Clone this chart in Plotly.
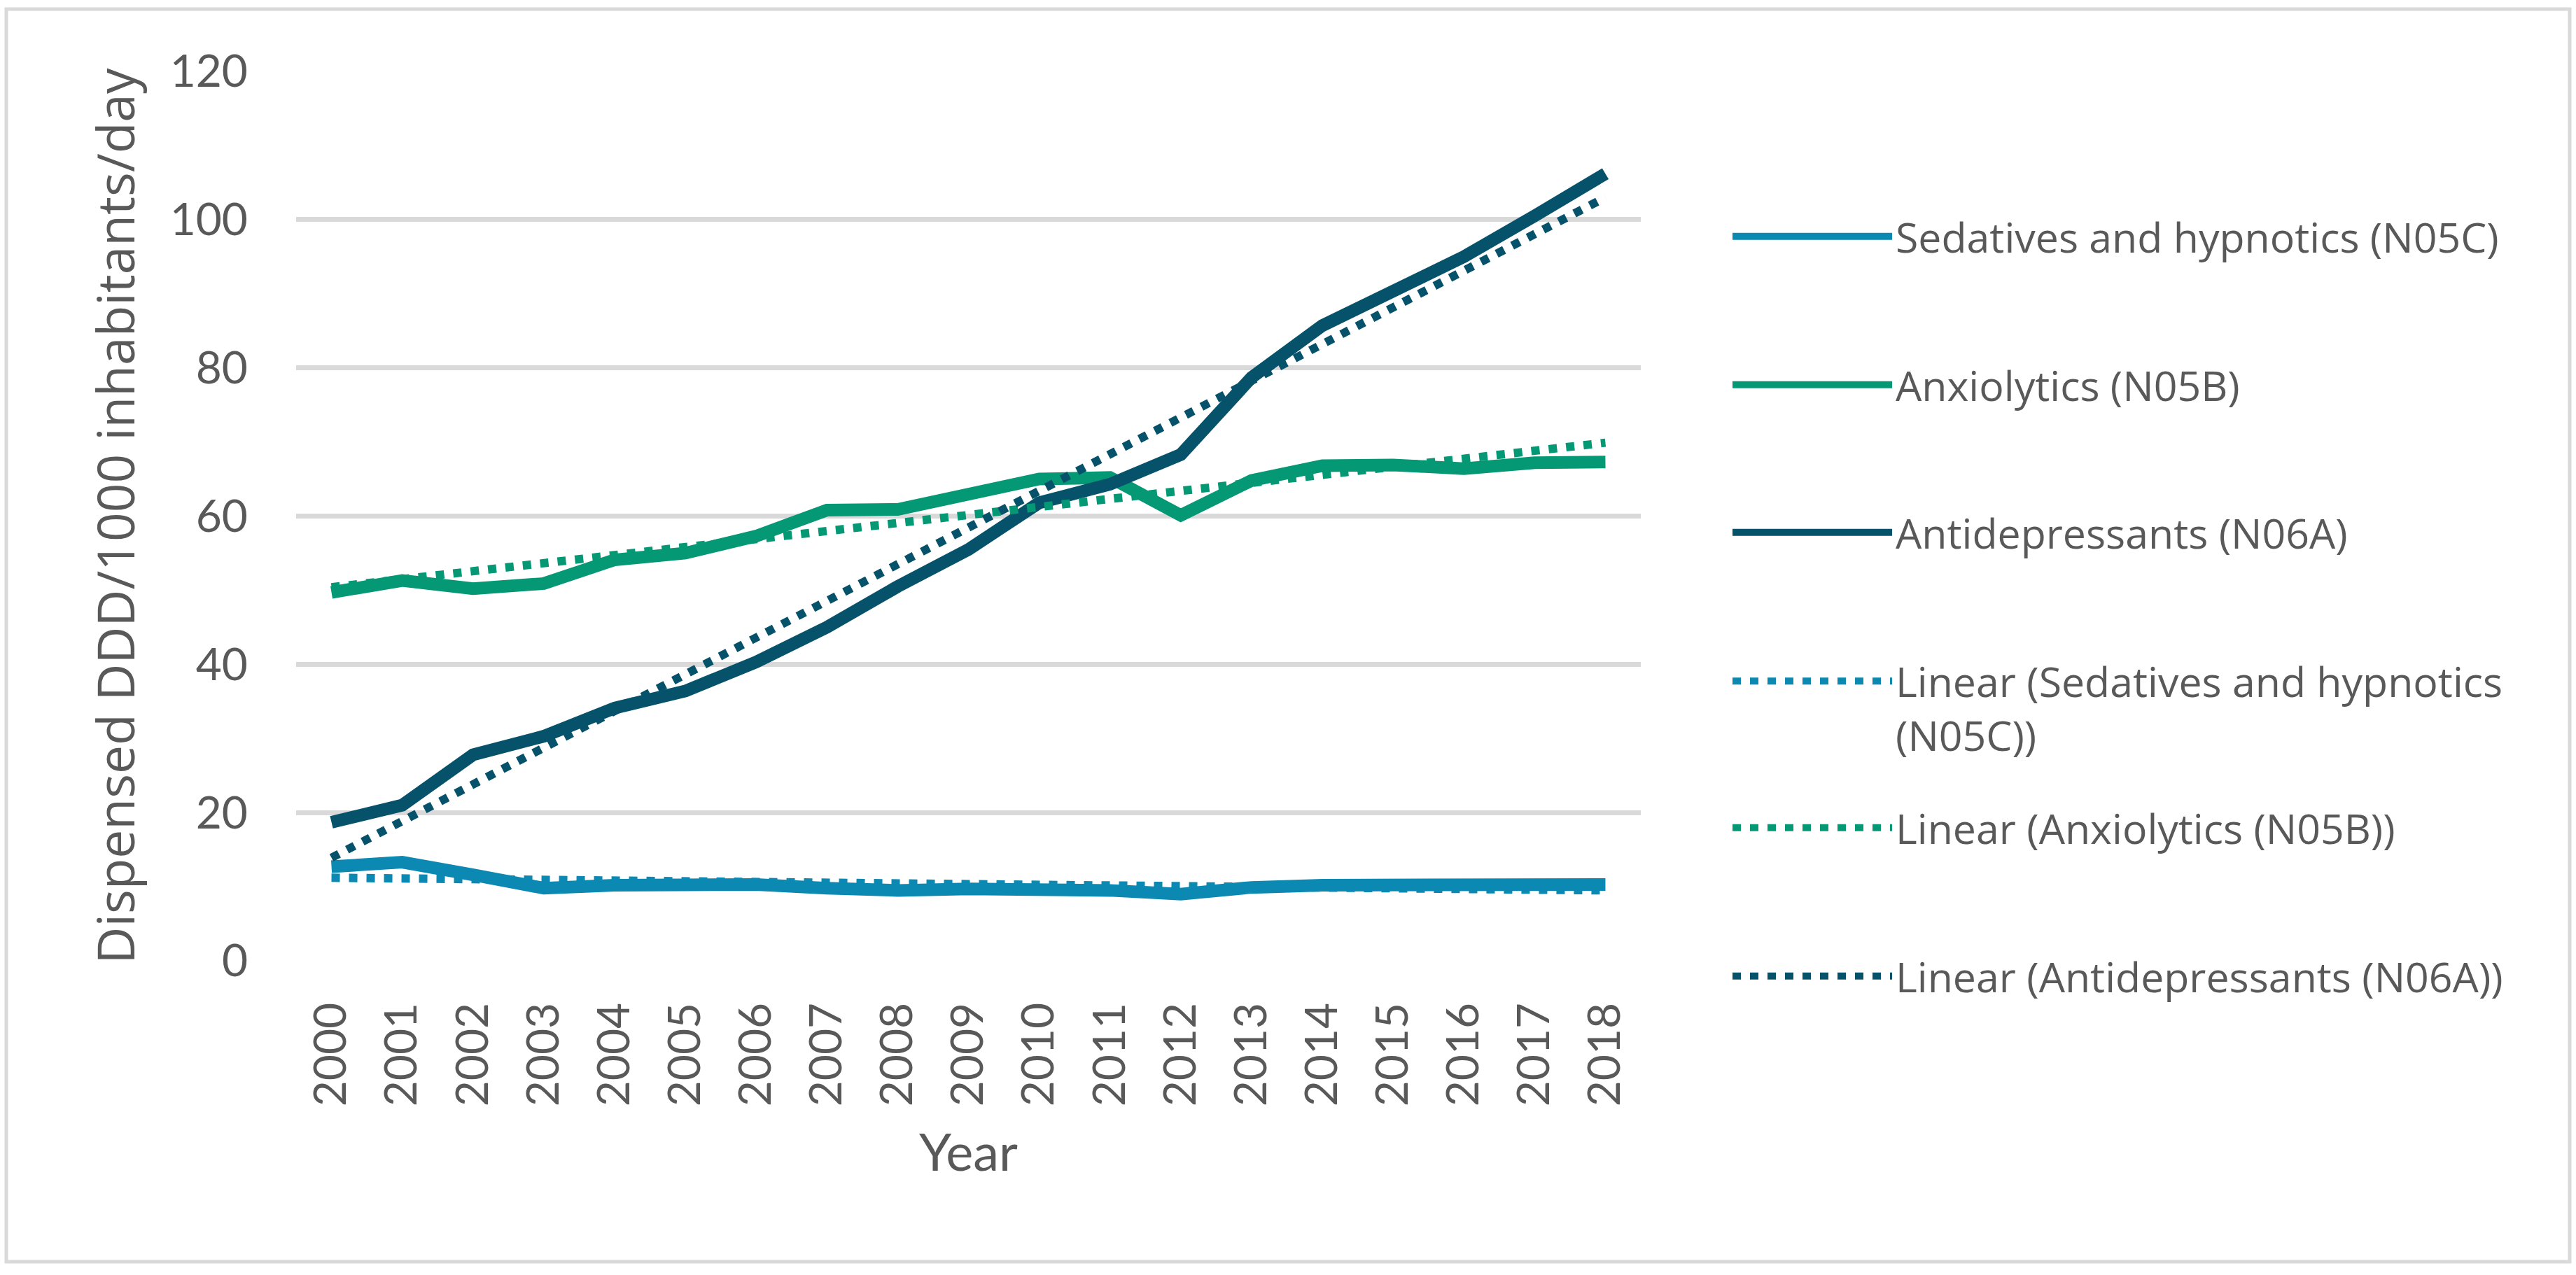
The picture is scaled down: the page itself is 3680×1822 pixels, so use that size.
import plotly.graph_objects as go

# ---------------- data ----------------
years = ["2000", "2001", "2002", "2003", "2004", "2005", "2006", "2007", "2008", "2009",
         "2010", "2011", "2012", "2013", "2014", "2015", "2016", "2017", "2018"]

sedatives = [12.7, 13.3, 11.6, 9.8, 10.2, 10.3, 10.3, 9.8, 9.5, 9.7,
             9.7, 9.5, 9.0, 9.9, 10.2, 10.3, 10.1, 10.4, 10.3]
anxiolytics = [49.7, 51.3, 50.2, 50.9, 54.1, 55.0, 57.3, 60.8, 60.9, 63.0,
               65.0, 65.2, 60.1, 64.8, 66.8, 66.9, 66.4, 67.2, 67.3]
antidepressants = [18.7, 21.0, 27.8, 30.3, 34.1, 36.4, 40.3, 45.0, 50.5, 55.5,
                   61.8, 64.3, 68.3, 78.7, 85.7, 90.4, 95.0, 100.5, 106.2]

# linear trendlines (Excel), start / end values
trend_years = ["2000", "2018"]
trend_sedatives = [11.2, 9.5]
trend_anxiolytics = [50.4, 69.9]
trend_antidepressants = [13.9, 103.0]

names = ["Sedatives and hypnotics (N05C)", "Anxiolytics (N05B)", "Antidepressants (N06A)",
         "Linear (Sedatives and hypnotics<br>(N05C))", "Linear (Anxiolytics (N05B))",
         "Linear (Antidepressants (N06A))"]

y_ticks = [0, 20, 40, 60, 80, 100, 120]

# ---------------- style ----------------
W, H = 3680, 1822
L, R, T, B = 423, 2344, 102, 1373          # plot area in px
C_SED, C_ANX, C_AD = "#0B89B2", "#059874", "#07526B"
TXT = "#595959"
GRID = "#D9D9D9"
LW = 18
DOT = dict(width=12, dash="12px,13px")

fig = go.Figure()

series = [
    (years, sedatives, C_SED, names[0], "legend"),
    (years, anxiolytics, C_ANX, names[1], "legend2"),
    (years, antidepressants, C_AD, names[2], "legend3"),
]
trends = [
    (trend_years, trend_sedatives, C_SED, names[3], "legend4"),
    (trend_years, trend_anxiolytics, C_ANX, names[4], "legend5"),
    (trend_years, trend_antidepressants, C_AD, names[5], "legend6"),
]

for x, y, c, n, lg in series:
    fig.add_trace(go.Scatter(x=x, y=y, mode="lines", name=n, legend=lg,
                             line=dict(color=c, width=LW, shape="linear"),
                             hoverinfo="skip"))
for x, y, c, n, lg in trends:
    fig.add_trace(go.Scatter(x=x, y=y, mode="lines", name=n, legend=lg,
                             line=dict(color=c, **DOT), hoverinfo="skip"))

LEG_X = 2470 / W
leg_y = {"legend": 338, "legend2": 550, "legend3": 761, "legend4": 1012,
         "legend5": 1183, "legend6": 1395}


def legend_cfg(ypx, valign="middle"):
    return dict(xref="container", yref="container", x=LEG_X, y=1 - ypx / H,
                xanchor="left", yanchor="middle", bgcolor="rgba(0,0,0,0)",
                borderwidth=0, itemwidth=228, valign=valign,
                font=dict(family="Open Sans", size=59, color=TXT))


pw, ph = R - L, B - T


def px_x(v):
    return (v - L) / pw


def px_y(v):
    return (B - v) / ph


fig.update_layout(
    width=W, height=H,
    margin=dict(l=L, r=W - R, t=T, b=H - B, pad=0),
    paper_bgcolor="white", plot_bgcolor="white",
    showlegend=True,
    legend=legend_cfg(leg_y["legend"]),
    legend2=legend_cfg(leg_y["legend2"]),
    legend3=legend_cfg(leg_y["legend3"]),
    legend4=legend_cfg(leg_y["legend4"], valign="top"),
    legend5=legend_cfg(leg_y["legend5"]),
    legend6=legend_cfg(leg_y["legend6"]),
    xaxis=dict(
        type="category", categoryorder="array", categoryarray=years,
        range=[-0.5, len(years) - 0.5],
        showgrid=False, zeroline=False, showline=False,
        ticks="", tickangle=-90, ticklabelstandoff=46,
        tickfont=dict(family="Lato", size=64, color=TXT),
        title=dict(text="Year", standoff=40,
                   font=dict(family="Lato", size=74, color=TXT)),
    ),
    yaxis=dict(
        range=[0, 120], tickvals=y_ticks, ticktext=[str(v) for v in y_ticks],
        showgrid=True, gridcolor=GRID, gridwidth=7,
        zeroline=False, showline=False, ticks="", ticklabelstandoff=68,
        tickfont=dict(family="Lato", size=64, color=TXT),
        title=dict(text="Dispensed DDD/1000 inhabitants/day", standoff=26,
                   font=dict(family="Open Sans", size=73, color=TXT)),
    ),
    shapes=[dict(type="rect", xref="paper", yref="paper", layer="below",
                 x0=px_x(9), x1=px_x(3671), y0=px_y(1803), y1=px_y(13),
                 line=dict(color=GRID, width=5), fillcolor="rgba(0,0,0,0)")],
)

fig.write_html("out.html", config={"displayModeBar": False},
               post_script="document.body.style.margin='0';")
